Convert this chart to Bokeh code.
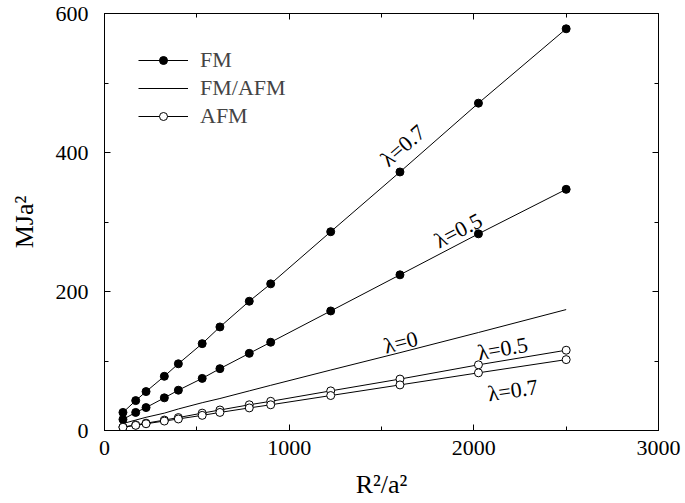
import math
from bokeh.plotting import figure
from bokeh.models import (Range1d, LinearAxis, ColumnDataSource, Legend, LegendItem,
                          FixedTicker, CustomJSTickFormatter)
from bokeh.core.properties import value
from bokeh.embed import file_html
from bokeh.resources import INLINE

# ---- data ----
r2 = [100, 169, 225, 324, 400, 529, 625, 784, 900, 1225, 1600, 2025, 2500]
fm_07 = [26, 43, 56, 78, 96, 125, 149, 186, 211, 286, 372, 471, 578]
fm_05 = [16, 26, 33, 47, 58, 75, 89, 111, 127, 172, 224, 283, 347]
fmafm_0 = [10, 15, 19, 25, 31, 40, 46, 57, 65, 87, 112, 141, 174]
afm_05 = [5, 8, 10.5, 15, 18.6, 25, 29.5, 37, 42, 57, 74, 94.5, 115.5]
afm_07 = [4.7, 7.4, 9.7, 13.6, 16.6, 21.8, 26, 32.5, 37, 50.3, 65.6, 83, 102]

label_text = ["λ=0.7", "λ=0.5", "λ=0", "λ=0.5", "λ=0.7"]
label_x = [1615, 1915, 1604, 2156, 2211]
label_y = [410, 288, 127, 118, 58]
label_angle_deg = [40.9, 27.4, 14.4, 9.9, 8.5]

x_ticks = [0, 1000, 2000, 3000]
y_ticks = [0, 200, 400, 600]

FONT = "Liberation Serif"

p = figure(width=685, height=503, x_range=Range1d(0, 3000), y_range=Range1d(0, 600),
           output_backend="svg", toolbar_location=None,
           min_border_left=104, min_border_right=27, min_border_top=13, min_border_bottom=73,
           x_axis_label="R²/a²", y_axis_label="MJa²")
p.xgrid.visible = False
p.ygrid.visible = False
p.outline_line_color = "black"
p.outline_line_width = 1
p.background_fill_color = "white"
p.border_fill_color = "white"

def style_axis(ax, labels=True):
    ax.axis_line_color = "black"
    ax.major_tick_in = 6
    ax.major_tick_out = 0
    ax.minor_tick_in = 4
    ax.minor_tick_out = 0
    ax.major_tick_line_color = "black"
    ax.minor_tick_line_color = "black"
    ax.major_label_text_font = FONT
    ax.major_label_text_font_size = "22px"
    ax.major_label_text_color = "black"
    ax.axis_label_text_font = FONT
    ax.axis_label_text_font_size = "26px"
    ax.axis_label_text_font_style = "normal"
    ax.axis_label_text_color = "black"
    if not labels:
        ax.formatter = CustomJSTickFormatter(code="return ''")

for ax in p.xaxis:
    ax.ticker = FixedTicker(ticks=x_ticks, minor_ticks=[500, 1500, 2500])
    style_axis(ax)
    ax.major_label_standoff = 10
    ax.axis_label_standoff = 12
for ax in p.yaxis:
    ax.ticker = FixedTicker(ticks=y_ticks, minor_ticks=[100, 300, 500])
    style_axis(ax)
    ax.major_label_standoff = 16
    ax.axis_label_standoff = 14

top = LinearAxis(ticker=FixedTicker(ticks=x_ticks, minor_ticks=[500, 1500, 2500]))
style_axis(top, labels=False)
p.add_layout(top, "above")
right = LinearAxis(ticker=FixedTicker(ticks=y_ticks, minor_ticks=[100, 300, 500]))
style_axis(right, labels=False)
p.add_layout(right, "right")

# ---- series ----
l1 = p.line(r2, fm_07, line_color="black", line_width=1)
s1 = p.scatter(r2, fm_07, size=8, marker="circle", fill_color="black", line_color="black")
l2 = p.line(r2, fm_05, line_color="black", line_width=1)
s2 = p.scatter(r2, fm_05, size=8, marker="circle", fill_color="black", line_color="black")
l3 = p.line(r2, fmafm_0, line_color="black", line_width=1)
l4 = p.line(r2, afm_05, line_color="black", line_width=1)
s4 = p.scatter(r2, afm_05, size=8, marker="circle", fill_color="white", line_color="black")
l5 = p.line(r2, afm_07, line_color="black", line_width=1)
s5 = p.scatter(r2, afm_07, size=8, marker="circle", fill_color="white", line_color="black")

src = ColumnDataSource(dict(x=label_x, y=label_y, text=label_text,
                            angle=[math.radians(a) for a in label_angle_deg]))
p.text(x="x", y="y", text="text", angle="angle", source=src,
       text_font=value(FONT), text_font_size="22px", text_color="black",
       text_align="center", text_baseline="middle")

legend = Legend(items=[
    LegendItem(label="FM", renderers=[l1, s1]),
    LegendItem(label="FM/AFM", renderers=[l3]),
    LegendItem(label="AFM", renderers=[l4, s4]),
], location="top_left", margin=34, padding=10, spacing=2,
   glyph_width=50, glyph_height=20, label_height=20, label_standoff=12,
   label_text_font=FONT, label_text_font_size="22px",
   border_line_color=None, background_fill_alpha=0)
p.add_layout(legend, "center")

open("out.html", "w").write(file_html(p, INLINE))
